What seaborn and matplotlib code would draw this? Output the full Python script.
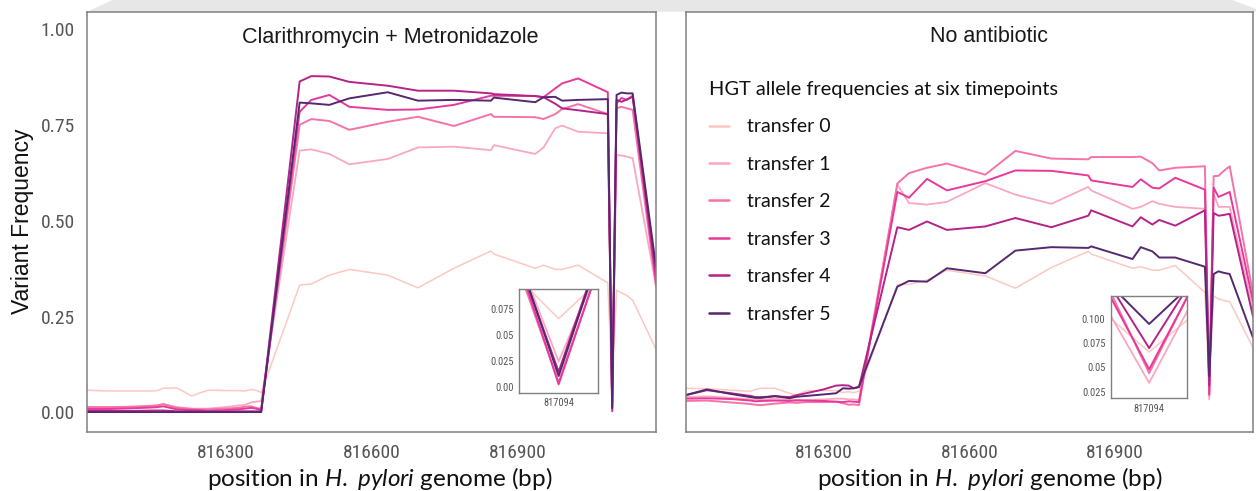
import matplotlib
matplotlib.use("Agg")
import matplotlib.pyplot as plt
from matplotlib.lines import Line2D
from matplotlib.patches import Polygon
from matplotlib.font_manager import FontProperties, fontManager
import numpy as np
import pandas as pd
import seaborn as sns

sns.set_style("white")
plt.rcParams["font.family"] = ["Liberation Sans", "DejaVu Sans"]
plt.rcParams["mathtext.fontset"] = "custom"
plt.rcParams["mathtext.rm"] = "Lato"
plt.rcParams["mathtext.it"] = "Lato:italic"

# ---------------------------------------------------------------- data
positions = [816016, 816060, 816110, 816150, 816160, 816172, 816200, 816230,
             816245, 816264, 816300, 816326, 816340, 816352, 816362, 816373,
             816452, 816476, 816513, 816554, 816633, 816695, 816769, 816845,
             816851, 816936, 816953, 816977, 816991, 817024, 817085, 817094,
             817103, 817113, 817124, 817136, 817184]

transfers = ["transfer 0", "transfer 1", "transfer 2",
             "transfer 3", "transfer 4", "transfer 5"]

# Clarithromycin + Metronidazole
cla_t0 = [0.058, 0.056, 0.056, 0.056, 0.057, 0.063, 0.064, 0.043, 0.050, 0.058, 0.057, 0.057, 0.056, 0.060, 0.058, 0.052,
          0.332, 0.335, 0.358, 0.373, 0.358, 0.325, 0.376, 0.421, 0.413, 0.376, 0.384, 0.373, 0.373, 0.384, 0.338, 0.066,
          0.319, 0.312, 0.305, 0.293, 0.165]
cla_t1 = [0.012, 0.013, 0.015, 0.018, 0.019, 0.021, 0.014, 0.010, 0.010, 0.010, 0.014, 0.018, 0.020, 0.026, 0.028, 0.030,
          0.683, 0.686, 0.674, 0.647, 0.661, 0.691, 0.693, 0.684, 0.697, 0.674, 0.691, 0.741, 0.748, 0.732, 0.728, 0.025,
          0.671, 0.670, 0.667, 0.663, 0.330]
cla_t2 = [0.014, 0.014, 0.015, 0.017, 0.018, 0.022, 0.012, 0.009, 0.008, 0.008, 0.010, 0.012, 0.015, 0.016, 0.012, 0.009,
          0.750, 0.765, 0.760, 0.737, 0.758, 0.771, 0.747, 0.778, 0.771, 0.770, 0.765, 0.778, 0.791, 0.804, 0.778, 0.005,
          0.793, 0.797, 0.793, 0.789, 0.330]
cla_t3 = [0.009, 0.009, 0.011, 0.013, 0.014, 0.016, 0.008, 0.006, 0.006, 0.004, 0.006, 0.008, 0.010, 0.012, 0.010, 0.006,
          0.784, 0.815, 0.828, 0.797, 0.789, 0.790, 0.802, 0.826, 0.826, 0.825, 0.822, 0.845, 0.858, 0.871, 0.835, 0.003,
          0.806, 0.820, 0.815, 0.826, 0.340]
cla_t4 = [0.004, 0.004, 0.004, 0.005, 0.005, 0.005, 0.003, 0.003, 0.003, 0.002, 0.002, 0.003, 0.003, 0.003, 0.003, 0.003,
          0.863, 0.877, 0.876, 0.862, 0.852, 0.839, 0.839, 0.832, 0.830, 0.825, 0.822, 0.805, 0.793, 0.788, 0.778, 0.015,
          0.815, 0.810, 0.816, 0.823, 0.360]
cla_t5 = [0.001, 0.001, 0.001, 0.001, 0.001, 0.001, 0.001, 0.001, 0.001, 0.001, 0.001, 0.001, 0.001, 0.001, 0.001, 0.001,
          0.808, 0.806, 0.802, 0.819, 0.835, 0.813, 0.815, 0.813, 0.821, 0.809, 0.822, 0.823, 0.813, 0.815, 0.817, 0.011,
          0.828, 0.834, 0.832, 0.832, 0.380]

# No antibiotic
none_t0 = [0.063, 0.062, 0.058, 0.055, 0.060, 0.063, 0.063, 0.050, 0.045, 0.056, 0.057, 0.057, 0.052, 0.054, 0.052, 0.055,
           0.333, 0.334, 0.345, 0.371, 0.356, 0.324, 0.378, 0.420, 0.413, 0.376, 0.380, 0.371, 0.371, 0.383, 0.313, 0.066,
           0.304, 0.296, 0.292, 0.289, 0.169]
none_t1 = [0.040, 0.042, 0.038, 0.034, 0.033, 0.033, 0.036, 0.033, 0.030, 0.032, 0.034, 0.036, 0.036, 0.034, 0.034, 0.032,
           0.595, 0.546, 0.542, 0.549, 0.598, 0.568, 0.544, 0.588, 0.579, 0.531, 0.536, 0.551, 0.544, 0.536, 0.531, 0.034,
           0.570, 0.536, 0.536, 0.536, 0.270]
none_t2 = [0.030, 0.031, 0.026, 0.022, 0.020, 0.019, 0.023, 0.026, 0.025, 0.027, 0.027, 0.028, 0.024, 0.020, 0.021, 0.019,
           0.597, 0.624, 0.638, 0.649, 0.620, 0.682, 0.662, 0.660, 0.666, 0.666, 0.667, 0.650, 0.631, 0.638, 0.642, 0.044,
           0.616, 0.617, 0.630, 0.642, 0.310]
none_t3 = [0.036, 0.037, 0.035, 0.031, 0.029, 0.030, 0.031, 0.030, 0.032, 0.031, 0.030, 0.028, 0.027, 0.029, 0.028, 0.027,
           0.575, 0.560, 0.609, 0.579, 0.603, 0.631, 0.630, 0.618, 0.605, 0.588, 0.608, 0.586, 0.584, 0.612, 0.581, 0.048,
           0.586, 0.562, 0.568, 0.575, 0.290]
none_t4 = [0.045, 0.058, 0.050, 0.043, 0.040, 0.040, 0.042, 0.040, 0.045, 0.050, 0.060, 0.070, 0.071, 0.070, 0.063, 0.066,
           0.483, 0.476, 0.498, 0.476, 0.485, 0.507, 0.483, 0.513, 0.527, 0.485, 0.509, 0.490, 0.502, 0.487, 0.527, 0.070,
           0.520, 0.513, 0.515, 0.518, 0.250]
none_t5 = [0.045, 0.060, 0.048, 0.040, 0.038, 0.038, 0.043, 0.037, 0.041, 0.043, 0.047, 0.050, 0.063, 0.062, 0.063, 0.067,
           0.328, 0.343, 0.341, 0.376, 0.363, 0.422, 0.431, 0.429, 0.433, 0.400, 0.431, 0.420, 0.404, 0.404, 0.380, 0.095,
           0.361, 0.368, 0.364, 0.361, 0.195]

panel_titles = ["Clarithromycin + Metronidazole", "No antibiotic"]
x_ticks = [816300, 816600, 816900]
y_ticks = [0.00, 0.25, 0.50, 0.75, 1.00]
inset_site = 817094
inset_left_ticks = [0.0, 0.025, 0.05, 0.075]
inset_left_labels = ["0.00", "0.025", "0.05", "0.075"]
inset_right_ticks = [0.025, 0.05, 0.075, 0.100]
inset_right_labels = ["0.025", "0.05", "0.075", "0.100"]

series = {
    panel_titles[0]: [cla_t0, cla_t1, cla_t2, cla_t3, cla_t4, cla_t5],
    panel_titles[1]: [none_t0, none_t1, none_t2, none_t3, none_t4, none_t5],
}
rows = []
for panel, vals in series.items():
    for name, freq in zip(transfers, vals):
        for p, f in zip(positions, freq):
            rows.append((panel, name, p, f))
df = pd.DataFrame(rows, columns=["panel", "transfer", "position", "frequency"])

# ---------------------------------------------------------------- style
colors = ["#fcc8c2", "#f9a8c0", "#f573a8", "#e8399a", "#b3238a", "#54296f"]
widths = [1.1, 1.3, 1.4, 1.4, 1.4, 1.4]
frame_col = "#808080"

# a narrow face for the numeric tick labels, if one is available
installed = {f.name for f in fontManager.ttflist}
narrow_candidates = ["Liberation Sans Narrow", "Noto Sans ExtraCondensed",
                     "Noto Sans Condensed", "DejaVu Sans Condensed",
                     "Roboto Condensed", "Open Sans Condensed"]
narrow = [n for n in narrow_candidates if n in installed]
cond_faces = [f for f in fontManager.ttflist
              if f.name in ("Noto Sans", "DejaVu Sans", "Open Sans", "Roboto")
              and str(f.stretch) in ("condensed", "extra-condensed", "semi-condensed")
              and f.weight in (400, "normal", "regular") and f.style == "normal"]
if narrow:
    tick_fp = FontProperties(family=narrow[0])
elif cond_faces:
    tick_fp = FontProperties(fname=cond_faces[0].fname)
else:
    tick_fp = FontProperties(family="Liberation Sans")

W, H = 1256, 491
fig = plt.figure(figsize=(W / 100, H / 100), dpi=100)
fig.patch.set_facecolor("white")


def rect(x0, y0, x1, y1):
    return [x0 / W, 1 - y1 / H, (x1 - x0) / W, (y1 - y0) / H]


# light shading strip along the top edge
fig.add_artist(Polygon([(87.4 / W, 1 - 11.7 / H), (112 / W, 1.0), (1232 / W, 1.0),
                        (1.0, 1 - 9 / H), (1.0, 1 - 11.7 / H)],
                       closed=True, transform=fig.transFigure,
                       facecolor="#e7e7e7", edgecolor="none", zorder=0))


def draw_lines(ax, panel):
    sub = df[df["panel"] == panel]
    for name, c, lw in zip(transfers, colors, widths):
        sns.lineplot(data=sub[sub["transfer"] == name], x="position", y="frequency",
                     color=c, linewidth=lw, estimator=None, sort=True, ax=ax,
                     legend=False)


def style_frame(ax, lw=1.1):
    for s in ax.spines.values():
        s.set_visible(True)
        s.set_color(frame_col)
        s.set_linewidth(lw)


def set_tick_font(ax, size):
    for lab in ax.get_xticklabels() + ax.get_yticklabels():
        lab.set_fontproperties(tick_fp)
        lab.set_fontsize(size)


axes = [fig.add_axes(rect(87.4, 11.7, 656, 432)),
        fig.add_axes(rect(685.5, 11.7, 1253, 432))]

for i, (ax, panel) in enumerate(zip(axes, panel_titles)):
    draw_lines(ax, panel)
    ax.set_xlim(816016, 817184)
    ax.set_ylim(-0.051, 1.045)
    ax.set_xticks(x_ticks)
    ax.set_xticklabels([str(t) for t in x_ticks])
    ax.set_yticks(y_ticks)
    ax.set_yticklabels([f"{t:.2f}" for t in y_ticks] if i == 0 else [])
    ax.set_xlabel("")
    ax.set_ylabel("")
    style_frame(ax)
    ax.tick_params(axis="both", direction="out", length=4, width=0.9,
                   color=frame_col, labelcolor="#555555", pad=5)
    set_tick_font(ax, 14)

fig.text(390 / W, 1 - 37 / H, panel_titles[0], ha="center", va="center",
         fontsize=15.5, color="#1a1a1a")
fig.text(989 / W, 1 - 37 / H, panel_titles[1], ha="center", va="center",
         fontsize=15.5, color="#1a1a1a")

fig.text(23 / W, 1 - 221 / H, "Variant Frequency", rotation=90, ha="center",
         va="center", fontsize=16.5, color="#111111")

xlab = r"position in $\mathit{H.}$ $\mathit{pylori}$ genome (bp)"
for cx in (380, 990):
    fig.text(cx / W, 1 - 486 / H, xlab, ha="center", va="baseline",
             fontsize=17.5, family="Lato", color="#111111")

# legend
handles = [Line2D([0], [0], color=c, lw=1.8) for c in colors]
leg = axes[1].legend(handles, transfers, title="HGT allele frequencies at six timepoints",
                     loc="upper left", bbox_to_anchor=(709 / W, 1 - 81 / H),
                     bbox_transform=fig.transFigure, frameon=False,
                     prop=FontProperties(family="Lato", size=14),
                     title_fontproperties=FontProperties(family="Lato", size=14.4),
                     handlelength=1.05, handletextpad=0.9, labelspacing=1.05,
                     borderpad=0, borderaxespad=0, alignment="left")
for t in leg.get_texts():
    t.set_color("#111111")
leg.get_title().set_color("#111111")

# zoomed insets at the single site
insets = [
    (fig.add_axes(rect(519, 289.3, 598.3, 392.7)), panel_titles[0],
     (-0.005, 0.094), inset_left_ticks, inset_left_labels),
    (fig.add_axes(rect(1111, 296, 1187.3, 398.3)), panel_titles[1],
     (0.018, 0.124), inset_right_ticks, inset_right_labels),
]
for iax, panel, ylim, yt, ylab in insets:
    iax.set_facecolor("white")
    draw_lines(iax, panel)
    iax.set_xlim(inset_site - 1.25, inset_site + 1.25)
    iax.set_ylim(*ylim)
    iax.set_xticks([inset_site])
    iax.set_xticklabels([str(inset_site)])
    iax.set_xticks([inset_site - 1.1, inset_site - 0.55, inset_site + 0.55,
                    inset_site + 1.1], minor=True)
    iax.set_yticks(yt)
    iax.set_yticklabels(ylab)
    iax.set_xlabel("")
    iax.set_ylabel("")
    style_frame(iax, 1.0)
    iax.tick_params(axis="both", which="both", direction="out", length=2,
                    width=0.7, color=frame_col, labelcolor="#555555", pad=2)
    set_tick_font(iax, 7.5)

fig.savefig("out.png", dpi=100, facecolor="white")
